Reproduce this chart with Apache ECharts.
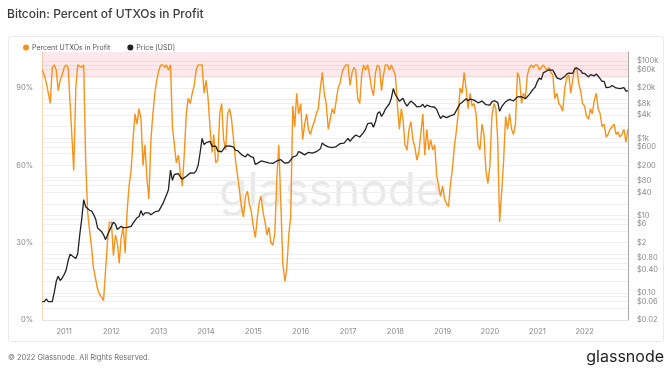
<!DOCTYPE html>
<html><head><meta charset="utf-8">
<script src="https://cdn.jsdelivr.net/npm/echarts@6/dist/echarts.min.js"></script>
<style>html,body{margin:0;padding:0;background:#fff}#c{width:672px;height:370px}</style>
</head><body><div id="c"></div>
<script>
// Semi-monthly samples (1st and 16th of each month), first sample 2010-07-16, last 2022-12-01
const firstSample = [2010, 6, 16];

// Percent of UTXOs in profit (%)
const profitPct = [
  97, 95, 92, 88, 84, 98, 99, 97, 89, 93, 95,                                   // 2010 (Jul16..Dec16)
  98, 99, 98, 84, 72, 58, 90, 99, 99, 98, 99, 62, 42, 35, 28, 20, 16, 12, 10, 9, 7.5, 8, 30, 38, // 2011
  38, 25, 33, 30, 22, 32, 36, 26, 42, 52, 58, 70, 80, 76, 82, 78, 60, 68, 55, 47, 70, 80, 88, 93, // 2012
  97, 99, 99, 98, 99, 97, 99, 75, 68, 61, 64, 57, 52, 64, 80, 86, 84, 88, 91, 97, 99, 99, 99, 88, // 2013
  93, 86, 74, 65, 72, 61, 62, 80, 84, 70, 66, 80, 82, 78, 70, 62, 56, 50, 44, 40, 48, 50, 45, 42, // 2014
  36, 32, 40, 46, 48, 42, 38, 33, 36, 30, 29, 34, 55, 68, 45, 22, 15, 20, 33, 40, 83, 75, 88, 80, // 2015
  84, 70, 76, 80, 74, 72, 75, 77, 80, 82, 90, 96, 88, 84, 74, 78, 82, 80, 85, 90, 92, 96, 98, 99, // 2016
  99, 91, 96, 98, 97, 86, 84, 95, 99, 97, 99, 95, 90, 87, 96, 99, 98, 89, 95, 99, 99, 97, 99, 99, // 2017
  95, 84, 74, 82, 78, 68, 66, 74, 77, 70, 67, 62, 65, 72, 80, 64, 74, 66, 70, 66, 68, 56, 52, 48, // 2018
  52, 47, 45, 44, 52, 58, 67, 73, 80, 90, 88, 96, 90, 82, 88, 83, 84, 80, 68, 66, 76, 72, 58, 53, // 2019
  60, 79, 84, 82, 70, 38, 50, 62, 79, 74, 80, 74, 72, 76, 96, 94, 84, 88, 86, 95, 98, 99, 98, 99, // 2020
  99, 97, 98, 99, 98, 97, 98, 96, 95, 86, 88, 84, 83, 81, 90, 94, 95, 88, 93, 98, 98, 92, 89, 84, // 2021
  83, 79, 78, 82, 80, 85, 88, 82, 80, 75, 76, 71, 72, 74, 75, 76, 72, 73, 71, 72, 74, 69, 74      // 2022 (..Dec1)
];

// Bitcoin price (USD)
const priceUsd = [
  0.06, 0.06, 0.07, 0.06, 0.06, 0.06, 0.10, 0.20, 0.27, 0.21, 0.24,
  0.30, 0.39, 0.69, 1.00, 0.90, 0.85, 0.78, 1.05, 3.1, 7.8, 26, 17, 15.4, 13.8, 13.1, 10.8, 8.2, 4.8, 5.1, 3.9, 3.2, 2.4, 3.1, 3.2,
  5.3, 6.8, 6.0, 4.4, 4.9, 5.3, 4.9, 4.9, 5.0, 5.1, 5.3, 6.4, 6.7, 8.8, 9.4, 13.5, 10.2, 11.8, 12.4, 11.8, 10.6, 11.5, 12.5, 13.4,
  13.3, 14.5, 20.4, 27, 34, 47, 150, 82, 116, 118, 122, 100, 88, 98, 104, 99, 127, 127, 126, 144, 204, 430, 1000, 690,
  770, 840, 830, 620, 560, 630, 470, 520, 450, 450, 630, 600, 640, 620, 590, 490, 480, 460, 380, 390, 330, 390, 380, 330,
  320, 210, 225, 235, 260, 290, 245, 225, 232, 237, 225, 250, 260, 285, 280, 260, 228, 230, 237, 262, 325, 332, 360, 455,
  434, 387, 373, 403, 435, 416, 417, 430, 450, 455, 535, 765, 675, 663, 600, 580, 572, 607, 613, 641, 730, 745, 755, 780,
  998, 830, 985, 1030, 1220, 1170, 1080, 1180, 1420, 1730, 2400, 2460, 2500, 1930, 2720, 4380, 4900, 3680, 4400, 5700, 6750, 7850, 10900, 19400,
  13400, 11300, 9100, 10200, 10900, 8250, 6800, 8050, 9200, 8300, 7500, 6500, 6380, 6700, 7600, 6300, 7200, 6500, 6600, 6580, 6370, 5600, 4200, 3250,
  3800, 3640, 3450, 3650, 3820, 4020, 4150, 5200, 5350, 7880, 8550, 8950, 10600, 9400, 10400, 10300, 9750, 10300, 8300, 8000, 9200, 8500, 7400, 6900,
  7200, 8800, 9400, 9900, 8550, 5000, 6600, 7100, 8850, 9400, 10200, 9500, 9230, 9150, 11800, 11900, 11900, 10950, 10600, 11350, 13750, 16050, 18800, 21300,
  29400, 36000, 33500, 49200, 49600, 56000, 59000, 61300, 57800, 46400, 36700, 38300, 33600, 31500, 39900, 45900, 48800, 48000, 48100, 61500, 66000, 60400, 57000, 47600,
  47700, 43100, 38700, 44500, 44400, 41100, 46300, 40400, 38500, 29800, 29800, 20400, 19300, 21200, 23300, 24100, 20100, 19700, 19300, 19100, 20500, 16700, 17000
];

const yearTicks = [2011, 2012, 2013, 2014, 2015, 2016, 2017, 2018, 2019, 2020, 2021, 2022];
const pctTicks = [0, 30, 60, 90];
const priceGridValues = [0.02, 0.04, 0.06, 0.08, 0.1, 0.2, 0.4, 0.6, 0.8, 1, 2, 4, 6, 8, 10, 20, 40, 60, 80, 100, 200, 400, 600, 800,
  1000, 2000, 4000, 6000, 8000, 10000, 20000, 40000, 60000, 80000, 100000];
const priceTickValues = [0.02, 0.06, 0.1, 0.4, 0.8, 2, 6, 10, 40, 80, 200, 600, 1000, 4000, 8000, 20000, 60000, 100000];
const priceTickLabels = ['$0.02', '$0.06', '$0.10', '$0.40', '$0.80', '$2', '$6', '$10', '$40', '$80', '$200', '$600', '$1k', '$4k', '$8k', '$20k', '$60k', '$100k'];
const profitBand = [94, 104];

// sample dates
const sampleDates = profitPct.map((_, i) => {
  const s = firstSample[0] * 24 + firstSample[1] * 2 + 1 + i;
  const y = Math.floor(s / 24), m = Math.floor((s % 24) / 2), d = (s % 2) ? 16 : 1;
  return Date.UTC(y, m, d);
});

const FONT = 'Inter, "Noto Sans", sans-serif';
const chart = echarts.init(document.getElementById('c'), null, { renderer: 'canvas' });
chart.setOption({
  backgroundColor: '#fff',
  animation: false,
  textStyle: { fontFamily: FONT },
  title: {
    text: 'Bitcoin: Percent of UTXOs in Profit', left: 7, top: 8, padding: 0,
    textStyle: { fontSize: 12, fontWeight: 500, color: '#3b3b3b', fontFamily: FONT }
  },
  legend: {
    data: ['Percent UTXOs in Profit', 'Price [USD]'],
    left: 23, top: 44, padding: 0, icon: 'circle', itemWidth: 6, itemHeight: 6, itemGap: 17,
    textStyle: { fontSize: 7, color: '#555', fontFamily: FONT, padding: [0, 0, 0, -2] }
  },
  graphic: [
    { type: 'rect', shape: { x: 8.5, y: 36.5, width: 655, height: 305, r: 2 }, style: { fill: 'none', stroke: '#ebebeb', lineWidth: 1 }, z: -10, silent: true },
    { type: 'text', x: 331, y: 192, style: { text: 'glassnode', fontSize: 46, fontFamily: FONT, fill: '#e9e9e9', align: 'center', verticalAlign: 'middle' }, z: -5, silent: true },
    { type: 'text', x: 8, y: 358, style: { text: '© 2022 Glassnode. All Rights Reserved.', fontSize: 7.5, fontFamily: FONT, fill: '#707070', verticalAlign: 'middle' }, silent: true },
    { type: 'text', x: 664, y: 357, style: { text: 'glassnode', fontSize: 16, fontFamily: FONT, fill: '#1e1e1e', align: 'right', verticalAlign: 'middle' }, silent: true }
  ],
  grid: { left: 42, right: 44, top: 52, bottom: 50, containLabel: false },
  xAxis: {
    type: 'value',
    min: Date.UTC(2010, 6, 14), max: Date.UTC(2022, 11, 2),
    axisLine: { show: true, lineStyle: { color: '#e4e4e4' } },
    axisTick: { show: false },
    splitLine: { show: false },
    axisLabel: {
      customValues: yearTicks.map(y => Date.UTC(y, 0, 1)),
      formatter: v => String(new Date(v).getUTCFullYear()),
      fontSize: 7.5, color: '#8a8a8a', margin: 8, fontFamily: FONT
    }
  },
  yAxis: [
    {
      type: 'value', min: 0, max: 104, position: 'left',
      axisLine: { show: true, lineStyle: { color: 'rgba(247,147,26,0.35)' } },
      axisTick: { show: false },
      splitLine: { show: false },
      axisLabel: {
        customValues: pctTicks,
        formatter: v => v + '%',
        fontSize: 7.5, color: '#8a8a8a', margin: 9, fontFamily: FONT
      }
    },
    {
      type: 'log', logBase: 10, min: 0.02, max: 171000, position: 'right',
      axisLine: { show: true, lineStyle: { color: '#a8a8a8' } },
      axisTick: { show: false, customValues: priceGridValues },
      splitLine: { show: true, lineStyle: { color: '#efefef', width: 1 } },
      axisLabel: {
        customValues: priceTickValues,
        formatter: v => {
          let best = 0, bd = Infinity;
          priceTickValues.forEach((t, i) => { const d = Math.abs(Math.log(v / t)); if (d < bd) { bd = d; best = i; } });
          return priceTickLabels[best];
        },
        fontSize: 7.5, color: '#8a8a8a', margin: 9, fontFamily: FONT
      }
    }
  ],
  series: [
    {
      name: 'Percent UTXOs in Profit', type: 'line', yAxisIndex: 0, showSymbol: false, symbol: 'circle',
      data: sampleDates.map((d, i) => [d, profitPct[i]]),
      lineStyle: { color: '#f7931a', width: 1.4 }, itemStyle: { color: '#f7931a' },
      markArea: {
        silent: true,
        itemStyle: { color: 'rgba(240,70,90,0.12)' },
        data: [[{ yAxis: profitBand[0] }, { yAxis: profitBand[1] }]]
      },
      z: 3
    },
    {
      name: 'Price [USD]', type: 'line', yAxisIndex: 1, showSymbol: false, symbol: 'circle',
      data: sampleDates.map((d, i) => [d, priceUsd[i]]),
      lineStyle: { color: '#222', width: 1.3 }, itemStyle: { color: '#222' },
      z: 4
    }
  ]
});
</script></body></html>
